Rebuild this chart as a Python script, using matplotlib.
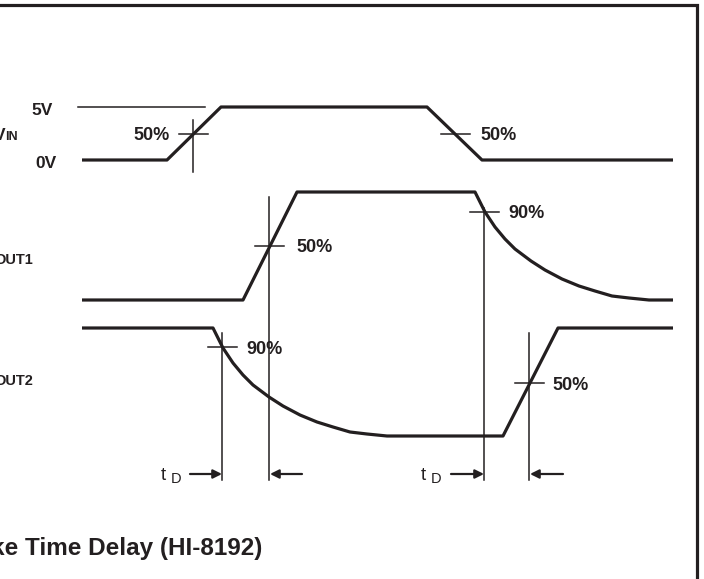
import matplotlib
matplotlib.use("Agg")
import matplotlib.pyplot as plt

# canvas is laid out in picture pixels (704 x 579), y grows downward
W, H = 704, 579

# signal waveforms (x, y in pixels)
vin_x = [82, 167, 221, 427, 482, 673]
vin_y = [160, 160, 107, 107, 160, 160]

out1_x = [82, 243, 297, 475, 485, 495, 505, 515, 531, 545, 562, 579, 595, 612, 629, 649, 673]
out1_y = [300, 300, 192, 192, 212, 227, 239, 249, 261, 270, 279, 286, 291, 296, 298, 300, 300]

out2_x = [82, 213, 223, 233, 243, 253, 269, 283, 300, 317, 333, 350, 367, 387, 503, 558, 673]
out2_y = [328, 328, 348, 363, 375, 385, 397, 406, 415, 422, 427, 432, 434, 436, 436, 328, 328]

# 5V reference level line
ref5_x = [78, 205]
ref5_y = [107, 107]

# measurement crosses: centre, and vertical extent (None = horizontal tick only)
cross_x = [193, 455, 269, 484, 222, 529]
cross_y = [134, 134, 246, 212, 347, 383]
cross_vtop = [120, None, 197, 208, 333, 333]
cross_vbot = [172, None, 480, 480, 480, 480]

pct_labels = ["50%", "50%", "50%", "90%", "90%", "50%"]
pct_pos = [(170, 135, "right"), (480, 135, "left"), (296, 248, "left"),
           (508, 214, "left"), (246, 350, "left"), (552, 386, "left")]

# tD delay arrows: (tail x, head x)
arrows = [(190, 222), (302, 270), (451, 484), (563, 530)]
arrow_y = 474
td_x = [161, 421]

INK = "#231f20"
FONT = "Liberation Sans"

fig = plt.figure(figsize=(W / 100, H / 100), dpi=100)
ax = fig.add_axes([0, 0, 1, 1])
ax.set_xlim(0, W)
ax.set_ylim(H, 0)
ax.axis("off")

# frame (top and right edges visible)
ax.plot([0, 697, 697], [5, 5, H], color=INK, lw=2.3, solid_joinstyle="miter")

# waveforms
for xs, ys in [(vin_x, vin_y), (out1_x, out1_y), (out2_x, out2_y)]:
    ax.plot(xs, ys, color=INK, lw=2.3, solid_joinstyle="round", solid_capstyle="butt")

ax.plot(ref5_x, ref5_y, color=INK, lw=1.1)

# crosses
half = 14.5
for cx, cy, vt, vb in zip(cross_x, cross_y, cross_vtop, cross_vbot):
    ax.plot([cx - half, cx + half], [cy, cy], color=INK, lw=1.1)
    if vt is not None:
        ax.plot([cx, cx], [vt, vb], color=INK, lw=1.1)

for lab, (px, py, ha) in zip(pct_labels, pct_pos):
    ax.text(px, py, lab, ha=ha, va="center", fontsize=13, fontweight="bold",
            family=FONT, color=INK)

# arrows
for tail, head in arrows:
    ax.annotate("", xy=(head, arrow_y), xytext=(tail, arrow_y),
                arrowprops=dict(arrowstyle="-|>", color=INK, lw=1.6,
                                mutation_scale=13, shrinkA=0, shrinkB=0))

for tx in td_x:
    ax.text(tx, 480, "t", ha="left", va="baseline", fontsize=13.5, family=FONT, color=INK)
    ax.text(tx + 10, 483, "D", ha="left", va="baseline", fontsize=10.5, family=FONT, color=INK)

# signal names and levels
ax.text(53, 115, "5V", ha="right", va="baseline", fontsize=12.5, fontweight="bold", family=FONT, color=INK)
ax.text(57, 168, "0V", ha="right", va="baseline", fontsize=12.5, fontweight="bold", family=FONT, color=INK)
ax.text(5, 140, "V", ha="right", va="baseline", fontsize=12.5, fontweight="bold", family=FONT, color=INK)
ax.text(5, 140, "IN", ha="left", va="baseline", fontsize=9, fontweight="bold", family=FONT, color=INK)
ax.text(33, 264, "OUT1", ha="right", va="baseline", fontsize=10.5, fontweight="bold", family=FONT, color=INK)
ax.text(33, 385, "OUT2", ha="right", va="baseline", fontsize=10.5, fontweight="bold", family=FONT, color=INK)

# caption (left part falls outside the crop)
ax.text(262, 555, "ke Time Delay (HI-8192)", ha="right", va="baseline", fontsize=17.5,
        fontweight="bold", family=FONT, color=INK)

plt.savefig("out.png", dpi=100)
plt.close()
